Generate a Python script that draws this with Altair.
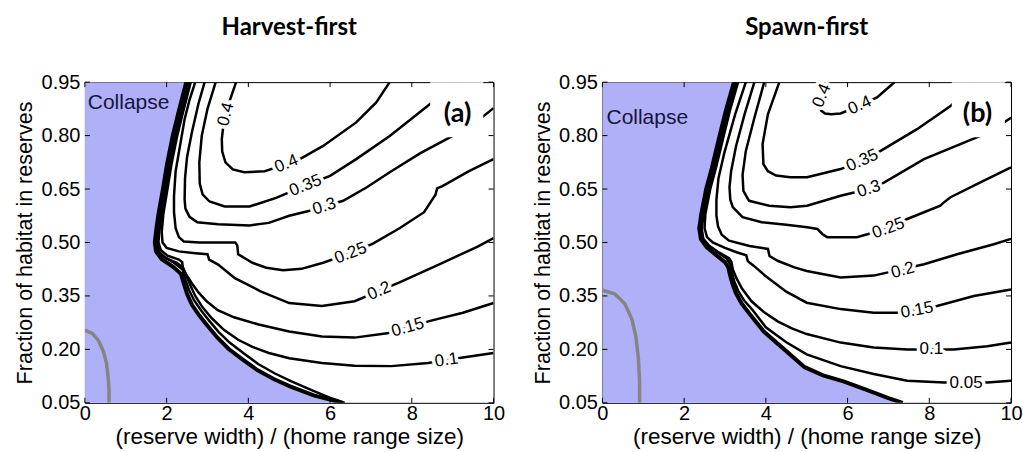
import altair as alt
import pandas as pd

W, H = 409, 321
BLUE = "#b0b0f8"

X_TICKS = [0, 2, 4, 6, 8, 10]
Y_TICKS = [0.05, 0.20, 0.35, 0.50, 0.65, 0.80, 0.95]

# ---------------- Panel (a): Harvest-first ----------------
A_BOUND_X = [2.48, 2.30, 2.15, 2.01, 1.91, 1.80, 1.74, 1.71, 1.74, 1.88, 2.16, 2.35, 2.42, 2.50, 2.62, 2.80, 3.00, 3.25, 3.52, 3.88, 4.22, 4.62, 5.02, 5.60, 6.31]
A_BOUND_Y = [0.95, 0.87, 0.80, 0.72, 0.65, 0.58, 0.53, 0.50, 0.475, 0.453, 0.432, 0.412, 0.385, 0.355, 0.325, 0.295, 0.266, 0.232, 0.201, 0.170, 0.142, 0.117, 0.096, 0.071, 0.05]

A_L005_X = [2.51, 2.33, 2.18, 2.04, 1.94, 1.83, 1.77, 1.75, 1.78, 1.91, 2.18, 2.39, 2.47, 2.55, 2.67, 2.84, 3.03, 3.27, 3.54, 3.90, 4.24, 4.64, 5.04, 5.62, 6.05, 6.36]
A_L005_Y = [0.95, 0.87, 0.80, 0.72, 0.65, 0.58, 0.53, 0.50, 0.478, 0.462, 0.443, 0.424, 0.392, 0.366, 0.338, 0.31, 0.282, 0.249, 0.219, 0.188, 0.159, 0.133, 0.111, 0.082, 0.062, 0.05]

A_L01_X = [2.535, 2.355, 2.205, 2.065, 1.965, 1.855, 1.795, 1.77, 1.82, 1.98, 2.25, 2.40, 2.49, 2.58, 2.70, 2.88, 3.10, 3.40, 3.75, 4.10, 4.50, 5.00, 5.80, 6.60, 7.50, 8.40, 9.25, 10.0]
A_L01_Y = [0.95, 0.87, 0.80, 0.72, 0.65, 0.58, 0.53, 0.50, 0.472, 0.456, 0.443, 0.43, 0.405, 0.38, 0.35, 0.318, 0.288, 0.255, 0.227, 0.207, 0.19, 0.175, 0.162, 0.154, 0.153, 0.162, 0.177, 0.19]

A_L015_X = [2.56, 2.38, 2.23, 2.09, 1.99, 1.88, 1.82, 1.80, 1.86, 2.02, 2.30, 2.38, 2.40, 2.47, 2.62, 2.78, 2.98, 3.25, 3.65, 4.25, 5.0, 5.8, 6.6, 7.4, 8.45, 9.25, 10.0]
A_L015_Y = [0.95, 0.87, 0.80, 0.72, 0.65, 0.58, 0.53, 0.50, 0.478, 0.463, 0.452, 0.445, 0.428, 0.412, 0.385, 0.36, 0.335, 0.31, 0.29, 0.27, 0.25, 0.236, 0.233, 0.245, 0.28, 0.303, 0.33]

A_L02_X = [2.59, 2.41, 2.26, 2.12, 2.02, 1.92, 1.88, 1.90, 2.0, 2.3, 2.7, 3.0, 3.04, 3.26, 3.67, 4.3, 5.0, 5.8, 6.6, 7.7, 8.7, 9.6, 10.0]
A_L02_Y = [0.95, 0.87, 0.80, 0.72, 0.65, 0.58, 0.53, 0.50, 0.485, 0.475, 0.47, 0.467, 0.452, 0.438, 0.40, 0.363, 0.33, 0.322, 0.335, 0.388, 0.44, 0.488, 0.512]

A_L025_X = [2.70, 2.56, 2.44, 2.30, 2.22, 2.18, 2.18, 2.22, 2.30, 2.42, 2.8, 3.3, 3.68, 3.73, 3.75, 4.1, 4.44, 4.85, 5.3, 5.83, 6.5, 7.05, 7.7, 8.3, 8.58, 8.62, 8.75, 9.4, 10.0]
A_L025_Y = [0.95, 0.90, 0.846, 0.753, 0.70, 0.63, 0.585, 0.54, 0.515, 0.503, 0.50, 0.50, 0.50, 0.492, 0.467, 0.443, 0.429, 0.422, 0.426, 0.443, 0.47, 0.497, 0.54, 0.585, 0.634, 0.652, 0.658, 0.70, 0.734]

A_L03_X = [2.93, 2.78, 2.62, 2.50, 2.45, 2.44, 2.46, 2.56, 2.75, 3.26, 4.03, 4.5, 5.0, 5.5, 6.32, 6.9, 7.46, 8.2, 9.0, 9.6, 10.0]
A_L03_Y = [0.95, 0.89, 0.81, 0.74, 0.68, 0.62, 0.595, 0.572, 0.557, 0.551, 0.548, 0.555, 0.575, 0.589, 0.617, 0.655, 0.697, 0.75, 0.799, 0.84, 0.877]

A_L035_X = [3.20, 3.0, 2.86, 2.80, 2.81, 2.88, 3.05, 3.42, 4.03, 4.68, 5.4, 6.0, 6.64, 7.46, 8.44, 9.1]
A_L035_Y = [0.95, 0.875, 0.80, 0.725, 0.665, 0.635, 0.615, 0.601, 0.601, 0.625, 0.66, 0.687, 0.734, 0.799, 0.888, 0.95]

A_L04_X = [3.70, 3.52, 3.40, 3.35, 3.36, 3.44, 3.62, 3.9, 4.4, 4.93, 5.26, 5.83, 6.64, 7.13, 7.46]
A_L04_Y = [0.95, 0.89, 0.84, 0.79, 0.755, 0.725, 0.705, 0.697, 0.70, 0.72, 0.734, 0.771, 0.837, 0.893, 0.95]

A_GREY_X = [0.0, 0.18, 0.33, 0.45, 0.53, 0.57, 0.59, 0.59]
A_GREY_Y = [0.254, 0.245, 0.225, 0.195, 0.16, 0.12, 0.085, 0.05]

A_LAB_TEXT = ["0.4", "0.4", "0.35", "0.3", "0.25", "0.2", "0.15", "0.1"]
A_LAB_X = [3.45, 4.93, 5.40, 5.86, 6.50, 7.20, 7.90, 8.85]
A_LAB_Y = [0.86, 0.721, 0.66, 0.601, 0.47, 0.364, 0.262, 0.17]
A_LAB_ANG = [285, 338, 338, 343, 339, 337, 344, 352]

# ---------------- Panel (b): Spawn-first ----------------
B_BOUND_X = [3.22, 3.02, 2.87, 2.68, 2.54, 2.42, 2.37, 2.41, 2.55, 2.78, 3.00, 3.08, 3.12, 3.18, 3.26, 3.40, 3.60, 3.95, 4.45, 4.95, 5.40, 5.90, 6.50, 7.00, 7.35]
B_BOUND_Y = [0.95, 0.87, 0.80, 0.71, 0.65, 0.58, 0.54, 0.51, 0.487, 0.465, 0.445, 0.43, 0.41, 0.385, 0.36, 0.33, 0.30, 0.25, 0.20, 0.15, 0.127, 0.11, 0.085, 0.063, 0.05]

B_L005_X = [3.25, 3.05, 2.90, 2.71, 2.57, 2.45, 2.40, 2.44, 2.58, 2.81, 3.04, 3.13, 3.17, 3.23, 3.32, 3.47, 3.68, 4.0, 4.5, 5.0, 5.83, 6.64, 7.46, 8.36, 9.42, 10.0]
B_L005_Y = [0.95, 0.87, 0.80, 0.71, 0.65, 0.58, 0.54, 0.51, 0.493, 0.473, 0.455, 0.438, 0.415, 0.39, 0.365, 0.337, 0.31, 0.262, 0.22, 0.186, 0.153, 0.131, 0.112, 0.107, 0.107, 0.112]

B_L01_X = [3.28, 3.08, 2.93, 2.74, 2.60, 2.48, 2.43, 2.47, 2.62, 2.85, 3.10, 3.16, 3.19, 3.28, 3.42, 3.65, 3.95, 4.3, 4.65, 5.0, 5.83, 6.64, 7.46, 8.6, 9.42, 10.0]
B_L01_Y = [0.95, 0.87, 0.80, 0.71, 0.65, 0.58, 0.54, 0.51, 0.49, 0.472, 0.456, 0.445, 0.425, 0.40, 0.37, 0.335, 0.305, 0.278, 0.258, 0.243, 0.219, 0.205, 0.20, 0.20, 0.209, 0.219]

B_L015_X = [3.32, 3.12, 2.97, 2.78, 2.64, 2.52, 2.50, 2.56, 2.70, 3.0, 3.3, 3.52, 3.56, 3.70, 4.0, 4.5, 5.0, 5.83, 6.64, 7.21, 8.19, 9.09, 10.0]
B_L015_Y = [0.95, 0.87, 0.80, 0.71, 0.65, 0.58, 0.54, 0.515, 0.50, 0.485, 0.472, 0.464, 0.447, 0.435, 0.405, 0.362, 0.331, 0.313, 0.303, 0.303, 0.322, 0.35, 0.368]

B_L02_X = [3.51, 3.25, 2.98, 2.84, 2.79, 2.79, 2.83, 2.92, 3.1, 3.6, 4.05, 4.09, 4.3, 4.7, 5.0, 5.83, 6.64, 7.87, 8.68, 9.58, 10.0]
B_L02_Y = [0.95, 0.86, 0.75, 0.68, 0.62, 0.575, 0.545, 0.522, 0.505, 0.49, 0.482, 0.462, 0.448, 0.43, 0.42, 0.402, 0.407, 0.439, 0.467, 0.495, 0.51]

B_L025_X = [3.72, 3.48, 3.27, 3.15, 3.11, 3.13, 3.19, 3.43, 3.9, 4.5, 5.01, 5.26, 5.38, 5.5, 6.23, 7.0, 7.46, 8.27, 8.35, 8.52, 9.25, 10.0]
B_L025_Y = [0.95, 0.86, 0.77, 0.70, 0.655, 0.62, 0.599, 0.571, 0.557, 0.55, 0.543, 0.538, 0.524, 0.515, 0.515, 0.54, 0.566, 0.603, 0.612, 0.627, 0.669, 0.711]

B_L03_X = [3.96, 3.72, 3.51, 3.43, 3.45, 3.59, 4.08, 4.6, 5.01, 5.83, 6.52, 6.89, 7.87, 9.25, 9.8, 10.0]
B_L03_Y = [0.95, 0.85, 0.757, 0.69, 0.645, 0.617, 0.603, 0.599, 0.603, 0.631, 0.65, 0.668, 0.734, 0.799, 0.835, 0.85]

B_L035_X = [4.33, 4.05, 3.92, 3.94, 4.05, 4.25, 4.6, 5.01, 5.83, 6.36, 6.81, 7.70, 8.52, 9.1]
B_L035_Y = [0.95, 0.86, 0.776, 0.72, 0.70, 0.688, 0.683, 0.683, 0.706, 0.73, 0.757, 0.818, 0.883, 0.95]

B_L04_X = [5.47, 5.38, 5.33, 5.35, 5.45, 5.6, 5.83, 6.3, 6.72, 7.05, 7.15]
B_L04_Y = [0.95, 0.915, 0.885, 0.87, 0.862, 0.86, 0.862, 0.885, 0.907, 0.94, 0.95]

B_GREY_X = [0.0, 0.30, 0.55, 0.72, 0.82, 0.88, 0.91, 0.91]
B_GREY_Y = [0.366, 0.356, 0.328, 0.285, 0.235, 0.175, 0.11, 0.05]

B_LAB_TEXT = ["0.4", "0.4", "0.35", "0.3", "0.25", "0.2", "0.15", "0.1", "0.05"]
B_LAB_X = [5.37, 6.30, 6.36, 6.52, 7.00, 7.35, 7.70, 8.05, 8.90]
B_LAB_Y = [0.912, 0.885, 0.73, 0.65, 0.54, 0.422, 0.31, 0.20, 0.107]
B_LAB_ANG = [292, 336, 336, 343, 340, 345, 350, 0, 0]

# label boxes / annotations (data coordinates)
A_TAG = ["(a)", 9.12, 0.86]
B_TAG = ["(b)", 9.18, 0.86]
A_TAG_BOX = [8.45, 9.75, 0.795, 0.95]
B_TAG_BOX = [8.55, 9.85, 0.795, 0.95]
A_COLLAPSE = [0.07, 0.892]
B_COLLAPSE = [0.10, 0.848]

XS = alt.Scale(domain=[0, 10], nice=False, zero=False)
YS = alt.Scale(domain=[0.05, 0.95], nice=False, zero=False)
XA = alt.Axis(values=X_TICKS, format="d", title="(reserve width) / (home range size)",
              grid=False, ticks=False, domain=False, labelFlush=False, labelOverlap=False)
YA = alt.Axis(values=Y_TICKS, format=".2f", title="Fraction of habitat in reserves",
              grid=False, ticks=False, domain=False, labelFlush=False, labelOverlap=False)


def X(f):
    return alt.X(f, scale=XS, axis=XA)


def Y(f):
    return alt.Y(f, scale=YS, axis=YA)


def line_df(xs, ys, key):
    return pd.DataFrame({"x": xs, "y": ys, "key": key, "ord": list(range(len(xs)))})


def panel(title, bx, by, lines, gx, gy, lab, tag, tagbox, coll):
    bdf = pd.DataFrame({"x": bx, "y": by, "x0": [0.0] * len(bx)})
    area = alt.Chart(bdf).mark_area(color=BLUE, opacity=1, clip=True).encode(
        y=Y("y:Q"), x=X("x:Q"), x2="x0:Q")
    gdf = line_df(gx, gy, "grey")
    grey = alt.Chart(gdf).mark_line(color="#858585", strokeWidth=3.5, clip=True).encode(
        x=X("x:Q"), y=Y("y:Q"), order="ord:Q")
    ldf = pd.concat([line_df(xs, ys, k) for k, (xs, ys) in lines.items()], ignore_index=True)
    cont = alt.Chart(ldf).mark_line(color="black", strokeWidth=2.5, clip=True).encode(
        x=X("x:Q"), y=Y("y:Q"), detail="key:N", order="ord:Q")
    bound = alt.Chart(line_df(bx, by, "b")).mark_line(color="black", strokeWidth=4, clip=True).encode(
        x=X("x:Q"), y=Y("y:Q"), order="ord:Q")
    labdf = pd.DataFrame({"t": lab[0], "x": lab[1], "y": lab[2], "a": lab[3]})
    enc = dict(x=X("x:Q"), y=Y("y:Q"), text="t:N", angle=alt.Angle("a:Q", scale=None))
    halo = alt.Chart(labdf).mark_text(color="white", stroke="white", strokeWidth=7, strokeJoin="round",
                                      fontSize=17, font="Liberation Sans").encode(**enc)
    labs = alt.Chart(labdf).mark_text(color="black", fontSize=17, font="Liberation Sans").encode(**enc)
    boxdf = pd.DataFrame({"x": [tagbox[0]], "x2": [tagbox[1]], "y": [tagbox[2]], "y2": [tagbox[3]]})
    box = alt.Chart(boxdf).mark_rect(color="white").encode(
        x=X("x:Q"), x2="x2:Q", y=Y("y:Q"), y2="y2:Q")
    tagdf = pd.DataFrame({"t": [tag[0]], "x": [tag[1]], "y": [tag[2]]})
    tagt = alt.Chart(tagdf).mark_text(fontSize=27, font="Lato", fontWeight="bold", color="black").encode(
        x=X("x:Q"), y=Y("y:Q"), text="t:N")
    cdf = pd.DataFrame({"t": ["Collapse"], "x": [coll[0]], "y": [coll[1]]})
    collt = alt.Chart(cdf).mark_text(fontSize=21, font="Liberation Sans", color="#15153d", align="left").encode(
        x=X("x:Q"), y=Y("y:Q"), text="t:N")
    xt = pd.DataFrame({"x": X_TICKS})
    yt = pd.DataFrame({"y": Y_TICKS})
    tb = alt.Chart(xt).mark_rule(color="black").encode(x=X("x:Q"), y=alt.value(H), y2=alt.value(H - 5))
    tt = alt.Chart(xt).mark_rule(color="black").encode(x=X("x:Q"), y=alt.value(0), y2=alt.value(5))
    tl = alt.Chart(yt).mark_rule(color="black").encode(y=Y("y:Q"), x=alt.value(0), x2=alt.value(5))
    tr = alt.Chart(yt).mark_rule(color="black").encode(y=Y("y:Q"), x=alt.value(W), x2=alt.value(W - 5))
    return alt.layer(area, grey, cont, bound, halo, labs, box, tagt, collt, tb, tt, tl, tr).properties(
        width=W, height=H,
        title=alt.TitleParams(title, fontSize=24, font="Lato", fontWeight="bold", color="black",
                              anchor="middle", frame="group", baseline="bottom", offset=8),
    )


pa = panel(
    "Harvest-first", A_BOUND_X, A_BOUND_Y,
    {"a005": (A_L005_X, A_L005_Y), "a01": (A_L01_X, A_L01_Y), "a015": (A_L015_X, A_L015_Y),
     "a02": (A_L02_X, A_L02_Y), "a025": (A_L025_X, A_L025_Y), "a03": (A_L03_X, A_L03_Y),
     "a035": (A_L035_X, A_L035_Y), "a04": (A_L04_X, A_L04_Y)},
    A_GREY_X, A_GREY_Y, (A_LAB_TEXT, A_LAB_X, A_LAB_Y, A_LAB_ANG), A_TAG, A_TAG_BOX, A_COLLAPSE)

pb = panel(
    "Spawn-first", B_BOUND_X, B_BOUND_Y,
    {"b005": (B_L005_X, B_L005_Y), "b01": (B_L01_X, B_L01_Y), "b015": (B_L015_X, B_L015_Y),
     "b02": (B_L02_X, B_L02_Y), "b025": (B_L025_X, B_L025_Y), "b03": (B_L03_X, B_L03_Y),
     "b035": (B_L035_X, B_L035_Y), "b04": (B_L04_X, B_L04_Y)},
    B_GREY_X, B_GREY_Y, (B_LAB_TEXT, B_LAB_X, B_LAB_Y, B_LAB_ANG), B_TAG, B_TAG_BOX, B_COLLAPSE)

chart = alt.hconcat(pa, pb, spacing=109, bounds="flush").properties(
    padding={"left": 14, "top": 15, "right": 0, "bottom": 0},
    background="white",
).configure_view(stroke="black", strokeWidth=1).configure_axis(
    labelFont="Liberation Sans", labelFontSize=20, labelColor="black",
    titleFont="Liberation Sans", titleFontWeight="normal", titleColor="black",
).configure_axisX(labelPadding=1, titlePadding=2, titleFontSize=22.5).configure_axisY(
    labelPadding=5, titlePadding=4, minExtent=44, maxExtent=44, titleFontSize=21.5)

chart.save("out.html", embed_options={"renderer": "svg", "actions": False})
